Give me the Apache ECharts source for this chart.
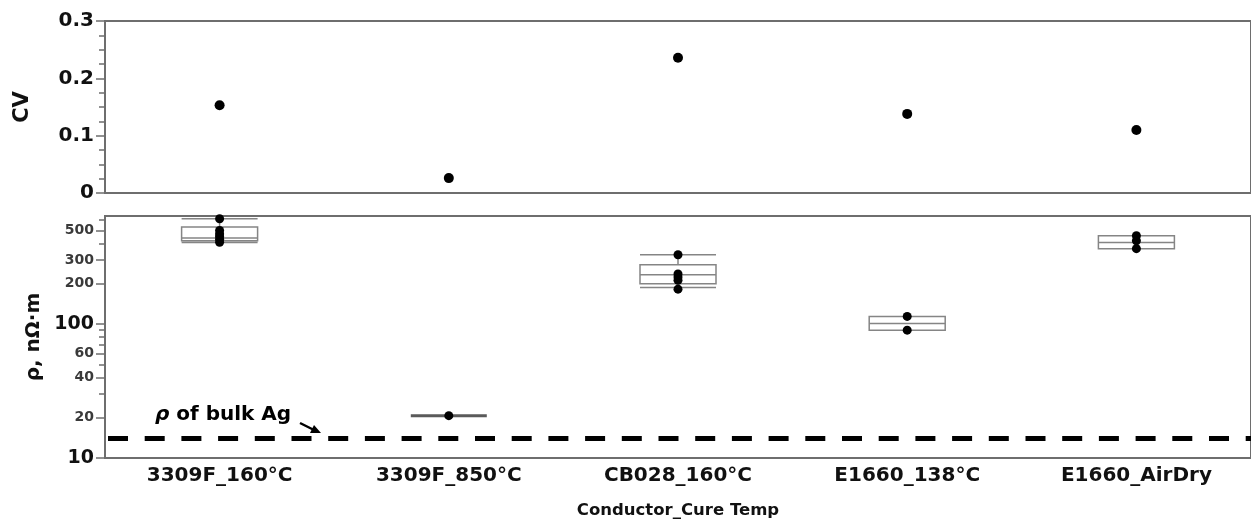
<!DOCTYPE html>
<html>
<head>
<meta charset="utf-8">
<script src="https://cdn.jsdelivr.net/npm/echarts@6/dist/echarts.min.js"></script>
<style>
  html, body { margin: 0; padding: 0; background: #ffffff; }
  #chart { width: 1251px; height: 522px; }
</style>
</head>
<body>
<div id="chart"></div>
<script>
// data
const categories = ['3309F_160°C', '3309F_850°C', 'CB028_160°C', 'E1660_138°C', 'E1660_AirDry'];
const cvValues = [0.153, 0.026, 0.236, 0.138, 0.110];
// [min, Q1, median, Q3, max] in nΩ·m
const rhoBoxes = [
  [406, 418, 438, 530, 611],
  [20.7, 20.7, 20.7, 20.7, 20.7],
  [187, 200, 233, 277, 329],
  [90, 90, 101, 114, 114],
  [365, 365, 406, 456, 456]
];
const rhoPoints = [
  [611, 499, 470, 450, 430, 408],
  [20.7],
  [329, 236, 224, 212, 182],
  [114, 90],
  [456, 418, 365]
];
const bulkAg = 14.1;
const rhoLabelTicks = [10, 20, 40, 60, 100, 200, 300, 500];
const rhoMinorTicks = [30, 50, 70, 80, 90, 400, 600];

const FONT = 'DejaVu Sans';
const AXIS = '#6e6e6e';

var chart = echarts.init(document.getElementById('chart'));

var scatterData = [];
rhoPoints.forEach(function (vals, i) {
  vals.forEach(function (v) { scatterData.push([i, v]); });
});

var boxData = rhoBoxes.map(function (b, i) {
  if (i === 1) {
    return { value: b, itemStyle: { borderColor: '#5a5a5a', borderWidth: 3 } };
  }
  return b;
});

var option = {
  animation: false,
  backgroundColor: '#ffffff',
  grid: [
    { left: 105, right: -5, top: 21, height: 172, show: true, borderColor: AXIS, borderWidth: 2 },
    { left: 105, right: -5, top: 216, height: 242, show: true, borderColor: AXIS, borderWidth: 2 }
  ],
  xAxis: [
    {
      type: 'category',
      gridIndex: 0,
      data: categories,
      axisLine: { lineStyle: { color: AXIS, width: 2 } },
      axisTick: { length: 8, lineStyle: { color: AXIS, width: 1.5 } },
      axisLabel: { show: false },
      splitLine: { show: false }
    },
    {
      type: 'category',
      gridIndex: 1,
      data: categories,
      axisLine: { lineStyle: { color: AXIS, width: 2 } },
      axisTick: { length: 8, lineStyle: { color: AXIS, width: 1.5 } },
      axisLabel: {
        margin: 8,
        fontFamily: FONT,
        fontWeight: 'bold',
        fontSize: 20,
        color: '#111'
      },
      name: 'Conductor_Cure Temp',
      nameLocation: 'middle',
      nameGap: 44,
      nameTextStyle: { fontFamily: FONT, fontWeight: 'bold', fontSize: 16.5, color: '#111' },
      splitLine: { show: false }
    }
  ],
  yAxis: [
    {
      type: 'value',
      gridIndex: 0,
      min: 0,
      max: 0.3,
      interval: 0.1,
      axisLine: { show: true, lineStyle: { color: AXIS, width: 2 } },
      axisTick: { show: true, length: 9, lineStyle: { color: AXIS, width: 1.5 } },
      minorTick: { show: true, splitNumber: 4, length: 6, lineStyle: { color: AXIS, width: 1.5 } },
      splitLine: { show: false },
      axisLabel: {
        margin: 11,
        fontFamily: FONT,
        fontWeight: 'bold',
        fontSize: 20,
        color: '#111',
        formatter: function (v) { return v === 0 ? '0' : v.toFixed(1); }
      },
      name: 'CV',
      nameLocation: 'middle',
      nameGap: 72,
      nameTextStyle: { fontFamily: FONT, fontWeight: 'bold', fontSize: 21, color: '#111' }
    },
    {
      type: 'log',
      gridIndex: 1,
      position: 'left',
      logBase: 10,
      min: 10,
      max: 640,
      axisLine: { show: true, lineStyle: { color: AXIS, width: 2 } },
      axisTick: { show: true, length: 9, customValues: rhoLabelTicks, lineStyle: { color: AXIS, width: 1.5 } },
      minorTick: { show: false },
      splitLine: { show: false },
      axisLabel: {
        margin: 11,
        customValues: rhoLabelTicks,
        formatter: function (v) {
          var n = Math.round(v);
          return (n === 10 || n === 100) ? '{big|' + n + '}' : '{small|' + n + '}';
        },
        rich: {
          big: { fontFamily: FONT, fontWeight: 'bold', fontSize: 19, color: '#111' },
          small: { fontFamily: FONT, fontWeight: 'bold', fontSize: 14, color: '#3a3a3a' }
        }
      },
      name: 'ρ, nΩ·m',
      nameLocation: 'middle',
      nameGap: 60,
      nameTextStyle: { fontFamily: FONT, fontWeight: 'bold', fontSize: 20, color: '#111' }
    },
    {
      type: 'log',
      gridIndex: 1,
      position: 'left',
      offset: 0,
      logBase: 10,
      min: 10,
      max: 640,
      axisLine: { show: false },
      axisTick: { show: true, length: 6, customValues: rhoMinorTicks, lineStyle: { color: AXIS, width: 1.5 } },
      axisLabel: { show: false },
      splitLine: { show: false }
    }
  ],
  series: [
    {
      name: 'CV',
      type: 'scatter',
      xAxisIndex: 0,
      yAxisIndex: 0,
      data: cvValues,
      symbolSize: 10,
      itemStyle: { color: '#000', opacity: 1 }
    },
    {
      name: 'rho box',
      type: 'boxplot',
      xAxisIndex: 1,
      yAxisIndex: 1,
      data: boxData,
      boxWidth: [76, 76],
      itemStyle: { color: 'rgba(255,255,255,0)', borderColor: '#858585', borderWidth: 1.5 },
      z: 2
    },
    {
      name: 'rho',
      type: 'scatter',
      xAxisIndex: 1,
      yAxisIndex: 1,
      data: scatterData,
      symbolSize: 9,
      itemStyle: { color: '#000', opacity: 1 },
      z: 3,
      markLine: {
        silent: true,
        symbol: ['none', 'none'],
        label: { show: false },
        lineStyle: { color: '#000', width: 5, type: [20, 16.7], dashOffset: -3, opacity: 1 },
        data: [{ yAxis: bulkAg }]
      }
    }
  ],
  graphic: [
    {
      type: 'text',
      left: 155,
      top: 405,
      style: {
        text: '{i|ρ} of bulk Ag',
        font: 'bold 20px "DejaVu Sans"',
        fill: '#000',
        rich: { i: { fontStyle: 'italic', fontWeight: 'bold', fontSize: 20, fontFamily: FONT } }
      }
    },
    {
      type: 'line',
      shape: { x1: 300, y1: 423, x2: 313, y2: 429.5 },
      style: { stroke: '#000', lineWidth: 2.5 }
    },
    {
      type: 'polygon',
      shape: { points: [[321, 433], [310, 433], [314, 425]] },
      style: { fill: '#000' }
    }
  ]
};

chart.setOption(option);
</script>
</body>
</html>
